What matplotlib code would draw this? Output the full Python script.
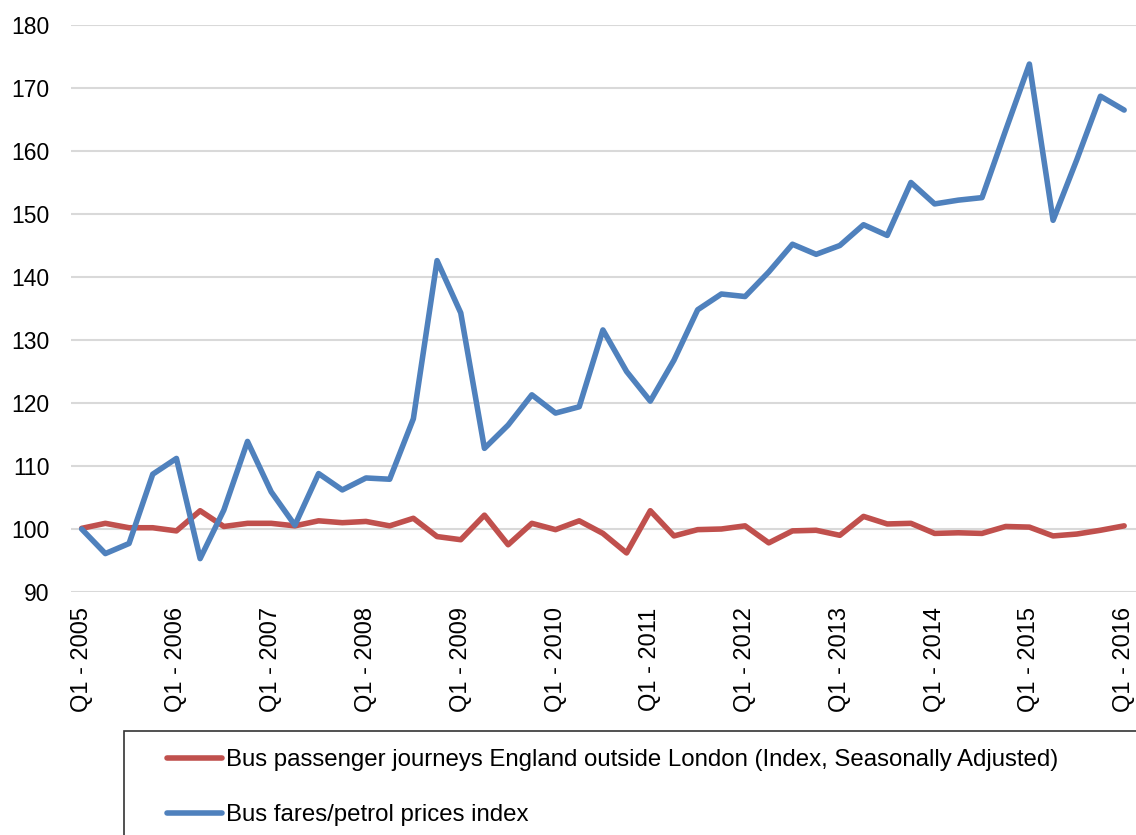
#!/usr/bin/env python3

import matplotlib
matplotlib.use('Agg')
import matplotlib.pyplot as plt
from matplotlib.patches import Rectangle
import numpy as np

plt.rcParams['font.family'] = ['Liberation Sans', 'DejaVu Sans']

# quarters Q1 2005 .. Q1 2016
quarters = [f"Q{q} - {y}" for y in range(2005, 2017) for q in range(1, 5)][:45]

journeys = [100.1, 100.9, 100.2, 100.2, 99.7, 102.9, 100.4, 100.9, 100.9, 100.5,
            101.3, 101.0, 101.2, 100.5, 101.7, 98.8, 98.3, 102.2, 97.5, 100.9,
            99.9, 101.3, 99.3, 96.2, 102.9, 98.9, 99.9, 100.0, 100.5, 97.8,
            99.7, 99.8, 99.0, 102.0, 100.8, 100.9, 99.3, 99.4, 99.3, 100.4,
            100.3, 98.9, 99.2, 99.8, 100.5]

fares_petrol = [100.0, 96.1, 97.7, 108.7, 111.2, 95.3, 103.0, 113.9, 105.9, 100.6,
                108.8, 106.2, 108.1, 107.9, 117.5, 142.6, 134.3, 112.8, 116.5, 121.3,
                118.4, 119.4, 131.6, 125.0, 120.3, 126.8, 134.8, 137.3, 136.9, 140.8,
                145.2, 143.6, 145.0, 148.3, 146.6, 155.0, 151.6, 152.2, 152.6, 163.3,
                173.8, 149.0, 158.6, 168.7, 166.5]

label_journeys = "Bus passenger journeys England outside London (Index, Seasonally Adjusted)"
label_fares = "Bus fares/petrol prices index"

W, H = 1136, 835
fig = plt.figure(figsize=(W / 100, H / 100), dpi=100)
ax = fig.add_axes([71 / W, 1 - 592 / H, 1 - 71 / W, (592 - 25) / H])

x = np.arange(len(quarters))
ax.plot(x, journeys, color='#C0504D', lw=4.0, solid_capstyle='round',
        solid_joinstyle='round', label=label_journeys, zorder=3)
ax.plot(x, fares_petrol, color='#4F81BD', lw=4.0, solid_capstyle='round',
        solid_joinstyle='round', label=label_fares, zorder=3)

ax.set_xlim(-0.45, len(quarters) - 0.5)
ax.set_ylim(90, 180)
ax.set_yticks(np.arange(90, 181, 10))
ax.yaxis.grid(True, color='#D9D9D9', lw=1.5)
ax.set_axisbelow(True)

ax.set_xticks(x[::4])
ax.set_xticklabels(quarters[::4], rotation=90, va='top', ha='center')
ax.tick_params(axis='x', length=0, pad=11, labelsize=17)
ax.tick_params(axis='y', length=0, pad=15.5, labelsize=16.5)
for s in ax.spines.values():
    s.set_visible(False)

# legend frame runs off the bottom/right edge like in the original
fig.add_artist(Rectangle((124 / W, -0.1), 1.2, (835 - 730.7) / H + 0.1,
                         transform=fig.transFigure, fill=False,
                         ec='#333333', lw=1.2))
fig.legend(loc='upper left', bbox_to_anchor=(166.7 / W, 1 - 749 / H),
           frameon=False, fontsize=17.3, borderpad=0, borderaxespad=0,
           handlelength=2.3, handletextpad=0.17, labelspacing=1.37)

plt.savefig('out.png', dpi=100)
